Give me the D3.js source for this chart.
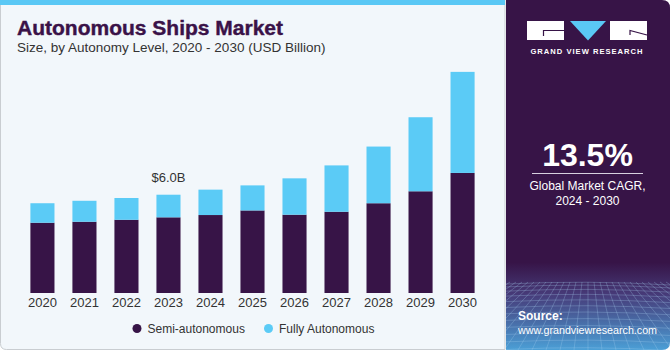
<!DOCTYPE html>
<html><head><meta charset="utf-8">
<script src="https://cdn.jsdelivr.net/npm/d3@7"></script>
<style>html,body{margin:0;padding:0;background:#fff;}svg{display:block;}</style>
</head><body>
<script>
const years = ["2020","2021","2022","2023","2024","2025","2026","2027","2028","2029","2030"];
const semiAutonomous = [4.29, 4.35, 4.47, 4.62, 4.76, 5.04, 4.78, 4.96, 5.48, 6.21, 7.33];
const fullyAutonomous = [1.19, 1.28, 1.33, 1.38, 1.55, 1.53, 2.22, 2.83, 3.46, 4.52, 6.17];
const seriesNames = ["Semi-autonomous", "Fully Autonomous"];
const annotation = {year: "2023", label: "$6.0B"};
const cagr = "13.5%";

const W = 670, H = 350;
const svg = d3.select("body").append("svg").attr("width", W).attr("height", H);
const defs = svg.append("defs");

// Left panel
svg.append("path")
  .attr("d", "M0.5,0 H505 V349.5 H6.5 Q0.5,349.5 0.5,343.5 Z")
  .attr("fill", "#f2f7fb").attr("stroke", "#c9cdd1").attr("stroke-width", 1);
svg.append("rect").attr("x", 0).attr("y", 0).attr("width", 505).attr("height", 5).attr("fill", "#5ac8f5");

// Right panel
const grad = defs.append("linearGradient").attr("id", "rg").attr("x1", 0).attr("y1", 0).attr("x2", 0).attr("y2", 1);
grad.append("stop").attr("offset", "0").attr("stop-color", "#371447");
grad.append("stop").attr("offset", "0.75").attr("stop-color", "#371447");
grad.append("stop").attr("offset", "0.84").attr("stop-color", "#463a78");
grad.append("stop").attr("offset", "1").attr("stop-color", "#4b9fd6");
const clip = defs.append("clipPath").attr("id", "rc");
clip.append("path").attr("d", "M506,0 H662 Q670,0 670,8 V342 Q670,350 662,350 H506 Z");
const rp = svg.append("g").attr("clip-path", "url(#rc)");
rp.append("rect").attr("x", 506).attr("y", 0).attr("width", 164).attr("height", 350).attr("fill", "url(#rg)");
// decorative grid
const gridG = rp.append("g").attr("stroke", "#a8d0f0").attr("stroke-opacity", 0.4).attr("stroke-width", 0.7).attr("fill", "none");
for (let i = 0; i < 14; i++) {
  const yy = 284 + Math.pow(i, 1.3) * 2.9;
  gridG.append("path").attr("d", `M506,${yy} Q588,${yy - 4} 670,${yy + 1}`);
}
for (let i = -16; i <= 16; i++) {
  const x0 = 588 + i * 6, x1 = 588 + i * 14;
  gridG.append("line").attr("x1", x0).attr("y1", 282).attr("x2", x1).attr("y2", 350);
}

// Logo
const logo = svg.append("g");
logo.append("rect").attr("x", 527).attr("y", 21).attr("width", 37).attr("height", 19).attr("fill", "#fff");
logo.append("path").attr("d", "M564,30.5 H543.5 V36").attr("stroke", "#371447").attr("stroke-width", 1.2).attr("fill", "none");
logo.append("path").attr("d", "M570,21 H606 L588,40.5 Z").attr("fill", "#5ac8f5");
logo.append("rect").attr("x", 610).attr("y", 21).attr("width", 37).attr("height", 19).attr("fill", "#fff");
logo.append("path").attr("d", "M630,35 V30.5 L647,35").attr("stroke", "#371447").attr("stroke-width", 1.2).attr("fill", "none");
svg.append("text").attr("x", 587).attr("y", 53.5).attr("text-anchor", "middle")
  .attr("font-family", "Liberation Sans, Arial, sans-serif").attr("font-weight", "bold")
  .attr("font-size", 7.6).attr("letter-spacing", 1).attr("fill", "#fff").text("GRAND VIEW RESEARCH");

// CAGR
svg.append("text").attr("x", 587.5).attr("y", 166).attr("text-anchor", "middle")
  .attr("font-family", "Liberation Sans, Arial, sans-serif").attr("font-weight", "bold")
  .attr("font-size", 32).attr("fill", "#fff").text(cagr);
svg.append("line").attr("x1", 532).attr("x2", 643).attr("y1", 173.5).attr("y2", 173.5).attr("stroke", "#d8d0e0").attr("stroke-width", 1);
svg.append("text").attr("x", 587.5).attr("y", 190).attr("text-anchor", "middle")
  .attr("font-family", "Liberation Sans, Arial, sans-serif").attr("font-size", 12).attr("fill", "#fff").text("Global Market CAGR,");
svg.append("text").attr("x", 587.5).attr("y", 204.5).attr("text-anchor", "middle")
  .attr("font-family", "Liberation Sans, Arial, sans-serif").attr("font-size", 12).attr("fill", "#fff").text("2024 - 2030");

// Source
svg.append("text").attr("x", 518).attr("y", 320).attr("font-family", "Liberation Sans, Arial, sans-serif")
  .attr("font-weight", "bold").attr("font-size", 12).attr("fill", "#fff").text("Source:");
svg.append("text").attr("x", 518).attr("y", 333.5).attr("font-family", "Liberation Sans, Arial, sans-serif")
  .attr("font-size", 11.5).attr("fill", "#fff")
  .attr("textLength", 139).attr("lengthAdjust", "spacingAndGlyphs").text("www.grandviewresearch.com");

// Titles
svg.append("text").attr("x", 17).attr("y", 35).attr("font-family", "Liberation Sans, Arial, sans-serif")
  .attr("font-weight", 900).attr("font-size", 20.5).attr("fill", "#3a1248")
  .attr("stroke", "#3a1248").attr("stroke-width", 0.4)
  .attr("textLength", 266).attr("lengthAdjust", "spacingAndGlyphs").text("Autonomous Ships Market");
svg.append("text").attr("x", 17).attr("y", 51.5).attr("font-family", "Liberation Sans, Arial, sans-serif")
  .attr("font-size", 13.5).attr("fill", "#333").text("Size, by Autonomy Level, 2020 - 2030 (USD Billion)");

// Chart
const x = d3.scaleBand().domain(years).range([22, 483]).paddingInner(0.427).paddingOuter(0.2);
const y = d3.scaleLinear().domain([0, 14]).range([293, 293 - 14 * 16.38]);
const data = years.map((yr, i) => ({year: yr, semi: semiAutonomous[i], fully: fullyAutonomous[i]}));
const stack = d3.stack().keys(["semi", "fully"])(data);
const colors = {semi: "#371447", fully: "#5bcbf6"};

const bars = svg.append("g");
stack.forEach(layer => {
  bars.selectAll(null).data(layer).enter().append("rect")
    .attr("x", d => x(d.data.year))
    .attr("width", x.bandwidth())
    .attr("y", d => y(d[1]))
    .attr("height", d => y(d[0]) - y(d[1]))
    .attr("fill", colors[layer.key]);
});

// axis labels
const xAxis = d3.axisBottom(x).tickSize(0).tickPadding(0);
const ax = svg.append("g").attr("transform", "translate(0,296)").call(xAxis);
ax.select(".domain").remove();
ax.selectAll("text").attr("font-family", "Liberation Sans, Arial, sans-serif").attr("font-size", 13)
  .attr("fill", "#333").attr("dy", "0.85em");

// annotation
const ai = years.indexOf(annotation.year);
svg.append("text").attr("x", x(annotation.year) + x.bandwidth() / 2)
  .attr("y", y(semiAutonomous[ai] + fullyAutonomous[ai]) - 12.5)
  .attr("text-anchor", "middle").attr("font-family", "Liberation Sans, Arial, sans-serif")
  .attr("font-size", 13).attr("fill", "#333").text(annotation.label);

// Legend
const leg = svg.append("g").attr("font-family", "Liberation Sans, Arial, sans-serif").attr("font-size", 12).attr("fill", "#333");
const legX = [137, 268.5];
seriesNames.forEach((n, i) => {
  leg.append("circle").attr("cx", legX[i]).attr("cy", 328.5).attr("r", 4.5).attr("fill", i === 0 ? colors.semi : colors.fully);
  leg.append("text").attr("x", legX[i] + 10.5).attr("y", 332.5).text(n);
});
</script>
</body></html>
